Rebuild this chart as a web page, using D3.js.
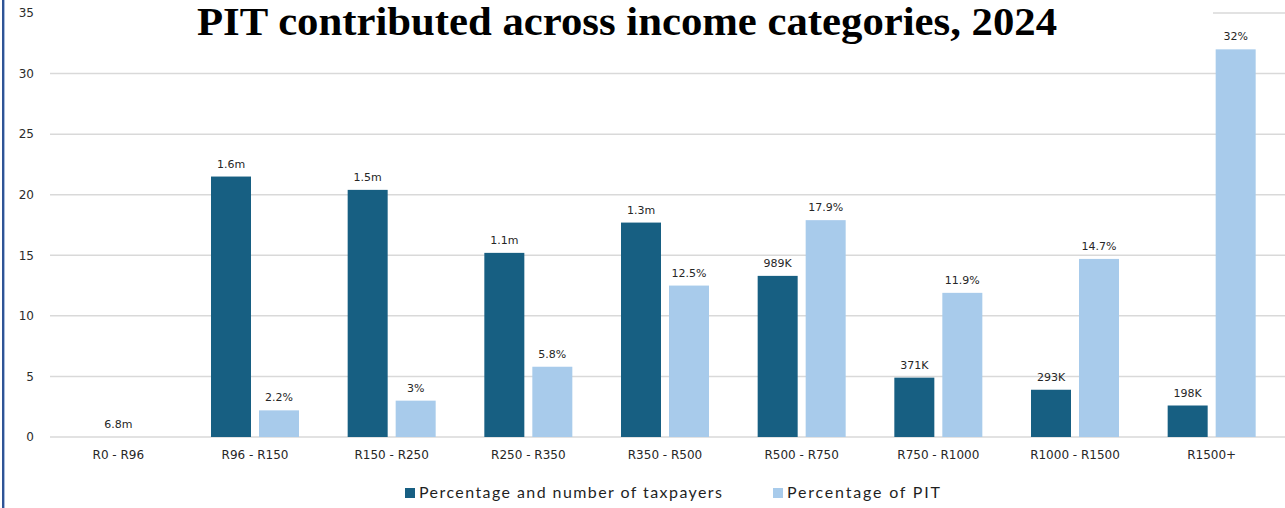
<!DOCTYPE html>
<html>
<head>
<meta charset="utf-8">
<script src="https://cdn.jsdelivr.net/npm/d3@7"></script>
<style>
  html, body { margin: 0; padding: 0; background: #fff; }
  svg { display: block; }
</style>
</head>
<body>
<svg id="chart" width="1285" height="508"></svg>
<script>
// Income brackets (R thousand)
const categories = ["R0 - R96", "R96 - R150", "R150 - R250", "R250 - R350", "R350 - R500",
                    "R500 - R750", "R750 - R1000", "R1000 - R1500", "R1500+"];
// Share of taxpayers (%) and the head-count label shown above each bar
const taxpayerShare = [0, 21.5, 20.4, 15.2, 17.7, 13.3, 4.9, 3.9, 2.6];
const taxpayerLabels = ["6.8m", "1.6m", "1.5m", "1.1m", "1.3m", "989K", "371K", "293K", "198K"];
// Share of personal income tax collected (%)
const pitShare = [null, 2.2, 3, 5.8, 12.5, 17.9, 11.9, 14.7, 32];
const yTicks = [0, 5, 10, 15, 20, 25, 30, 35];
const seriesNames = ["Percentage and number of taxpayers", "Percentage of PIT"];

const DARK = "#175f82", LIGHT = "#a8cbeb";

const svg = d3.select("#chart");
const W = 1285, H = 508;

const x = d3.scaleBand().domain(categories).range([50, 1280]).paddingInner(0).paddingOuter(0);
const y = d3.scaleLinear().domain([0, 35]).range([437, 13]);

// gridlines
svg.append("g")
  .selectAll("line")
  .data(yTicks)
  .join("line")
  .attr("x1", 50).attr("x2", W)
  .attr("y1", d => y(d)).attr("y2", d => y(d))
  .attr("stroke", "#d9d9d9").attr("stroke-width", 1.5);

// y axis labels
const yAxis = d3.axisLeft(y).tickValues(yTicks).tickSize(0).tickPadding(0);
const yg = svg.append("g").attr("transform", "translate(34,0)").call(yAxis);
yg.select(".domain").remove();
yg.selectAll("text")
  .attr("font-family", "DejaVu Sans, sans-serif")
  .attr("font-size", 12)
  .attr("fill", "#2b2b2b");

// title, on a white panel that hides the top gridline behind it
svg.append("rect").attr("x", 44).attr("y", 0).attr("width", 1169).attr("height", 46).attr("fill", "#fff");
svg.append("text")
  .attr("x", 627).attr("y", 35)
  .attr("text-anchor", "middle")
  .attr("font-family", "Liberation Serif, serif")
  .attr("font-weight", "bold")
  .attr("font-size", 40)
  .attr("textLength", 860).attr("lengthAdjust", "spacingAndGlyphs")
  .attr("fill", "#000")
  .text("PIT contributed across income categories, 2024");

const bw = 40, gap = 4;
const cx = c => x(c) + x.bandwidth() / 2;

// taxpayer bars
svg.append("g").selectAll("rect")
  .data(categories.map((c, i) => ({ c, v: taxpayerShare[i] })))
  .join("rect")
  .attr("x", d => cx(d.c) - gap - bw)
  .attr("y", d => y(d.v))
  .attr("width", bw)
  .attr("height", d => y(0) - y(d.v))
  .attr("fill", DARK);

// PIT bars
svg.append("g").selectAll("rect")
  .data(categories.map((c, i) => ({ c, v: pitShare[i] })).filter(d => d.v != null))
  .join("rect")
  .attr("x", d => cx(d.c) + gap)
  .attr("y", d => y(d.v))
  .attr("width", bw)
  .attr("height", d => y(0) - y(d.v))
  .attr("fill", LIGHT);

const labelStyle = sel => sel
  .attr("text-anchor", "middle")
  .attr("font-family", "DejaVu Sans, sans-serif")
  .attr("font-size", 11)
  .attr("fill", "#262626");

// taxpayer labels (R0 - R96 label sits over the centre of its group)
svg.append("g").selectAll("text")
  .data(categories.map((c, i) => ({ c, v: taxpayerShare[i], t: taxpayerLabels[i], first: i === 0 })))
  .join("text")
  .attr("x", d => d.first ? cx(d.c) : cx(d.c) - gap - bw / 2)
  .attr("y", d => y(d.v) - 9)
  .text(d => d.t)
  .call(labelStyle);

// PIT labels
svg.append("g").selectAll("text")
  .data(categories.map((c, i) => ({ c, v: pitShare[i] })).filter(d => d.v != null))
  .join("text")
  .attr("x", d => cx(d.c) + gap + bw / 2)
  .attr("y", d => y(d.v) - 9)
  .text(d => d.v + "%")
  .call(labelStyle);

// category axis
const xAxis = d3.axisBottom(x).tickSize(0).tickPadding(0);
const xg = svg.append("g").attr("transform", "translate(0,459)").call(xAxis);
xg.select(".domain").remove();
xg.selectAll("text")
  .attr("dy", 0)
  .attr("font-family", "DejaVu Sans, sans-serif")
  .attr("font-size", 12)
  .attr("fill", "#262626");

// legend: loosely tracked labels
const legend = [
  { name: seriesNames[0], color: DARK, x: 405, len: 303 },
  { name: seriesNames[1], color: LIGHT, x: 773, len: 153 }
];
const lg = svg.append("g").selectAll("g").data(legend).join("g")
  .attr("transform", d => `translate(${d.x},0)`);
lg.append("rect").attr("x", 0).attr("y", 488).attr("width", 10).attr("height", 10).attr("fill", d => d.color);
lg.append("text").attr("x", 14).attr("y", 497.5)
  .attr("font-family", "Lato, sans-serif").attr("font-size", 16).attr("fill", "#1f1f1f")
  .attr("textLength", d => d.len).attr("lengthAdjust", "spacing")
  .text(d => d.name);

// left frame edge
svg.append("rect").attr("x", 2).attr("y", 0).attr("width", 2).attr("height", H).attr("fill", "#2f5496");
svg.append("rect").attr("x", 4).attr("y", 0).attr("width", 1).attr("height", H).attr("fill", "#a9bcdc");
</script>
</body>
</html>
